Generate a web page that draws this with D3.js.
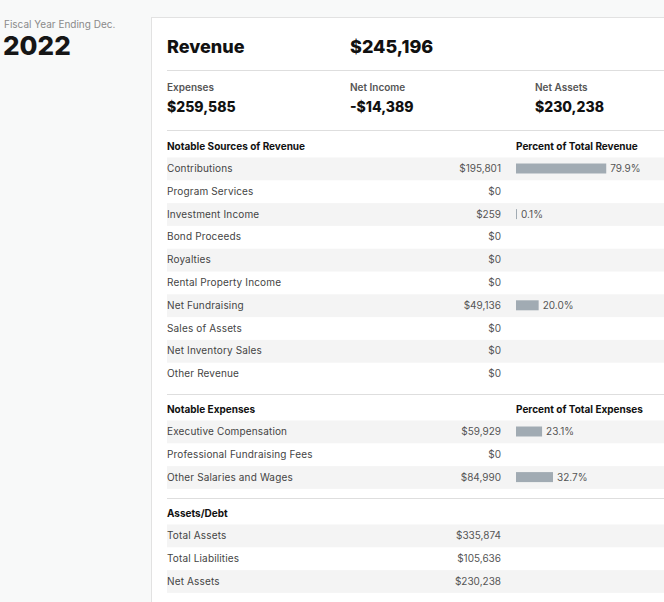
<!DOCTYPE html>
<meta charset="utf-8">
<head>
<style>
body { margin: 0; background: #f8f9f9; }
svg { display: block; font-family: Inter, "Noto Sans", sans-serif; }
.lbl { font-size: 10px; fill: #444; letter-spacing: 0.15px; }
.val { font-size: 10px; fill: #555; text-anchor: end; }
.pct { font-size: 10px; fill: #555; }
.hdr { font-size: 10px; font-weight: 700; fill: #111; }
.big { font-size: 18px; font-weight: 800; fill: #111; }
.sub { font-size: 10px; font-weight: 600; fill: #555; }
.subval { font-size: 14px; font-weight: 800; fill: #111; }
.rule { stroke: #dedede; stroke-width: 1; }
.stripe { fill: #f4f4f4; }
.bar { fill: #a1abb3; }
</style>
</head>
<body>
<svg width="664" height="602"></svg>
<script src="https://d3js.org/d3.v7.min.js"></script>
<script>

var svg = d3.select("svg"),
    width = +svg.attr("width"),
    height = +svg.attr("height");

// ---- data ----
var fiscalYear = "2022";
var totalRevenue = 245196;
var summaryLabels = ["Expenses", "Net Income", "Net Assets"];
var summaryValues = [259585, -14389, 230238];

var revenueLabels = ["Contributions", "Program Services", "Investment Income", "Bond Proceeds",
  "Royalties", "Rental Property Income", "Net Fundraising", "Sales of Assets",
  "Net Inventory Sales", "Other Revenue"];
var revenueValues = [195801, 0, 259, 0, 0, 0, 49136, 0, 0, 0];

var expenseLabels = ["Executive Compensation", "Professional Fundraising Fees", "Other Salaries and Wages"];
var expenseValues = [59929, 0, 84990];
var totalExpenses = 259585;

var assetLabels = ["Total Assets", "Total Liabilities", "Net Assets"];
var assetValues = [335874, 105636, 230238];

// ---- helpers ----
var money = function(v) { return (v < 0 ? "-$" : "$") + d3.format(",")(Math.abs(v)); };
var pctFmt = d3.format(".1f");

var left = 167, valX = 501, barX = 516, rowH = 22.8;
var x = d3.scaleLinear().domain([0, 100]).range([0, 113]);

// card
svg.append("rect")
    .attr("x", 151.5).attr("y", 17.5)
    .attr("width", width).attr("height", height)
    .attr("fill", "#fff").attr("stroke", "#e2e2e2");

// side
svg.append("text").attr("x", 4).attr("y", 28)
    .style("font-size", "10px").style("fill", "#8a8a8a")
    .text("Fiscal Year Ending Dec.");
svg.append("text").attr("x", 3).attr("y", 55)
    .style("font-size", "26px").style("font-weight", 800).style("fill", "#161616")
    .text(fiscalYear);

// header
svg.append("text").attr("class", "big").attr("x", left).attr("y", 53).text("Revenue");
svg.append("text").attr("class", "big").attr("x", 350).attr("y", 53).text(money(totalRevenue));
svg.append("line").attr("class", "rule").attr("x1", left).attr("x2", width).attr("y1", 70.5).attr("y2", 70.5);

var sumX = [left, 350, 535];
var sum = svg.selectAll(".summary").data(summaryLabels).enter().append("g")
    .attr("transform", function(d, i) { return "translate(" + sumX[i] + ",0)"; });
sum.append("text").attr("class", "sub").attr("y", 91).text(function(d) { return d; });
sum.append("text").attr("class", "subval").attr("y", 112).text(function(d, i) { return money(summaryValues[i]); });
svg.append("line").attr("class", "rule").attr("x1", left).attr("x2", width).attr("y1", 130.5).attr("y2", 130.5);

function section(top, title, pctTitle, labels, values, total) {
  var g = svg.append("g").attr("transform", "translate(0," + top + ")");
  g.append("text").attr("class", "hdr").attr("x", left).attr("y", 0).text(title);
  if (pctTitle) g.append("text").attr("class", "hdr").attr("x", barX).attr("y", 0).text(pctTitle);

  var row = g.selectAll(".row").data(labels).enter().append("g")
      .attr("transform", function(d, i) { return "translate(0," + (7.5 + i * rowH) + ")"; });
  row.filter(function(d, i) { return i % 2 === 0; })
    .append("rect").attr("class", "stripe")
      .attr("x", left).attr("y", 0).attr("width", width - left).attr("height", rowH);
  row.append("text").attr("class", "lbl").attr("x", left).attr("y", 14.5).text(function(d) { return d; });
  row.append("text").attr("class", "val").attr("x", valX).attr("y", 14.5).text(function(d, i) { return money(values[i]); });

  if (total) {
    var pct = function(d) { return values[labels.indexOf(d)] / total * 100; };
    var withBar = row.filter(function(d, i) { return values[i] > 0; });
    withBar.append("rect").attr("class", "bar")
        .attr("x", barX).attr("y", 6)
        .attr("width", function(d) { return Math.max(1, x(pct(d))); })
        .attr("height", 10);
    withBar.append("text").attr("class", "pct")
        .attr("x", function(d) { return barX + Math.max(1, x(pct(d))) + 4; })
        .attr("y", 14.5)
        .text(function(d) { return pctFmt(pct(d)) + "%"; });
  }
}

section(150, "Notable Sources of Revenue", "Percent of Total Revenue", revenueLabels, revenueValues, totalRevenue);
svg.append("line").attr("class", "rule").attr("x1", left).attr("x2", width).attr("y1", 394.5).attr("y2", 394.5);
section(413, "Notable Expenses", "Percent of Total Expenses", expenseLabels, expenseValues, totalExpenses);
svg.append("line").attr("class", "rule").attr("x1", left).attr("x2", width).attr("y1", 498.5).attr("y2", 498.5);
section(517, "Assets/Debt", null, assetLabels, assetValues, null);

</script>
</body>
</html>
